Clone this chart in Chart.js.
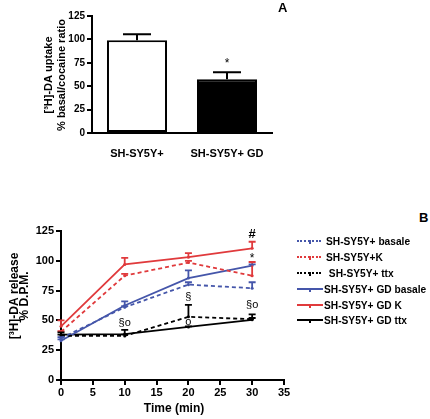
<!DOCTYPE html>
<html>
<head>
<meta charset="utf-8">
<script src="https://cdn.jsdelivr.net/npm/chart.js@4/dist/chart.umd.min.js"></script>
<style>
  html, body { margin: 0; padding: 0; background: #fff; }
  #wrap { position: relative; width: 430px; height: 419px; overflow: hidden; background: #fff; font-family: 'Liberation Sans', Arial, sans-serif; }
  #cA { position: absolute; left: 0; top: 0; }
  #cB { position: absolute; left: 0; top: 195px; }
  .panel { position: absolute; font-weight: bold; font-size: 13px; color: #000; }
  .leg { position: absolute; left: 297px; height: 12px; display: flex; align-items: center; font-weight: bold; font-size: 10.2px; color: #000; white-space: pre; }
  .sample { position: relative; height: 0; }
  .tick { position: absolute; left: 12px; top: -2.5px; width: 1.5px; height: 4px; }
</style>
</head>
<body>
<div id="wrap">
  <canvas id="cA" width="300" height="165"></canvas>
  <canvas id="cB" width="300" height="224"></canvas>
  <div class="panel" style="left:278px; top:0px;">A</div>
  <div class="panel" style="left:419px; top:210px;">B</div>
  <div id="legend"></div>
</div>
<script>
// ---------- Panel A data ----------
const uptakeCategories = ['SH-SY5Y+', 'SH-SY5Y+ GD'];
const uptakeMeans = [99, 57.5];
const uptakeUpper = [105.5, 65];
const uptakeTicks = [0, 25, 50, 75, 100, 125];

// ---------- Panel B data ----------
const times = [0, 10, 20, 30];
const basale = [35, 61, 80, 77];
const basaleUpper = [36, 62, 82, 82];
const kStim = [40.5, 87.5, 98.5, 87.5];
const kStimUpper = [41, 89, 100, 99];
const ttx = [37, 37, 53, 51];
const ttxUpper = [38, 38, 63, 55];
const gdBasale = [33, 62.5, 85.5, 96];
const gdBasaleUpper = [34, 66, 92, 97];
const gdK = [45, 97, 103, 110.5];
const gdKUpper = [50, 102.5, 106.5, 116];
const gdTtx = [38, 38.5, 44.5, 50.5];
const gdTtxUpper = [40, 42, 45, 52];
const seriesNames = ['SH-SY5Y+ basale', 'SH-SY5Y+K', ' SH-SY5Y+ ttx', 'SH-SY5Y+ GD basale', 'SH-SY5Y+ GD K', 'SH-SY5Y+ GD ttx'];
const releaseTicks = [0, 25, 50, 75, 100, 125];
const timeTicks = [0, 5, 10, 15, 20, 25, 30, 35];
const markText = ['§o', '§', 'o', '§o', '*', '#'];
const markTime = [10, 20, 20, 30, 30, 30];
const markValue = [48, 70, 49, 63, 102, 122];

const RED = '#e03a3c', BLUE = '#4556aa', BLACK = '#000';
const FONT = "'Liberation Sans', Arial, sans-serif";
Chart.defaults.font.family = FONT;
Chart.defaults.color = '#000';
Chart.defaults.animation = false;

function axisTitlePlugin(lines) {
  return {
    id: 'axTitles',
    afterDraw(chart) {
      const ctx = chart.ctx;
      ctx.save();
      ctx.fillStyle = '#000';
      ctx.textAlign = 'center';
      ctx.textBaseline = 'middle';
      for (const l of lines) {
        ctx.save();
        ctx.font = 'bold ' + l.size + 'px ' + FONT;
        ctx.translate(l.x, l.y);
        ctx.rotate(-Math.PI / 2);
        ctx.fillText(l.text, 0, 0);
        ctx.restore();
      }
      ctx.restore();
    }
  };
}

const errorBarPlugin = {
  id: 'errBars',
  afterDatasetsDraw(chart, args, opts) {
    const ctx = chart.ctx;
    const ys = chart.scales.y;
    chart.data.datasets.forEach((ds, di) => {
      if (!ds.upper) return;
      const meta = chart.getDatasetMeta(di);
      ctx.save();
      ctx.strokeStyle = ds.errColor || ds.borderColor;
      ctx.lineWidth = opts.lineWidth || 2;
      ctx.setLineDash([]);
      meta.data.forEach((el, i) => {
        const hi = ds.upper[i];
        if (hi == null) return;
        const x = el.x;
        const v = ds.data[i];
        const y0 = ys.getPixelForValue(typeof v === 'object' ? v.y : v);
        const y1 = ys.getPixelForValue(hi);
        ctx.beginPath();
        ctx.moveTo(x, y0); ctx.lineTo(x, y1);
        ctx.moveTo(x - opts.cap / 2, y1); ctx.lineTo(x + opts.cap / 2, y1);
        ctx.stroke();
      });
      ctx.restore();
    });
  }
};

function marksPlugin(texts, xsVals, ysVals) {
  return {
    id: 'marks',
    afterDatasetsDraw(chart) {
      const ctx = chart.ctx;
      ctx.save();
      ctx.fillStyle = '#000';
      ctx.textAlign = 'center';
      ctx.textBaseline = 'middle';
      texts.forEach((t, i) => {
        const x = chart.scales.x.getPixelForValue(xsVals[i]);
        const y = chart.scales.y.getPixelForValue(ysVals[i]);
        ctx.font = (t === '#' ? 'bold 13px ' : (t === '*' ? '12px ' : '11px ')) + FONT;
        ctx.fillText(t, x, y);
      });
      ctx.restore();
    }
  };
}

// ---------- Chart A ----------
new Chart(document.getElementById('cA'), {
  type: 'bar',
  data: {
    labels: uptakeCategories,
    datasets: [{
      data: uptakeMeans,
      upper: uptakeUpper,
      backgroundColor: ['#fff', '#000'],
      borderColor: '#000',
      errColor: '#000',
      borderWidth: 2,
      borderSkipped: false,
      barPercentage: 0.667,
      categoryPercentage: 1.0
    }]
  },
  options: {
    responsive: false,
    layout: { padding: { top: 16, right: 28, left: 0, bottom: 0 } },
    plugins: { legend: { display: false }, tooltip: { enabled: false }, errBars: { cap: 28, lineWidth: 2 } },
    scales: {
      x: {
        grid: { display: false },
        border: { display: true, color: '#000', width: 2 },
        ticks: { font: { size: 11, weight: 'bold' }, padding: 6, color: '#000', maxRotation: 0 },
        afterFit(s) { s.height = 32; }
      },
      y: {
        min: 0, max: 125,
        afterBuildTicks(s) { s.ticks = uptakeTicks.map(v => ({ value: v })); },
        grid: { display: true, drawOnChartArea: false, drawTicks: true, tickLength: 5, color: '#000', lineWidth: 2 },
        border: { display: true, color: '#000', width: 2 },
        ticks: { font: { size: 10, weight: 'bold' }, padding: 2, color: '#000' },
        afterFit(s) { s.width = 92; }
      }
    }
  },
  plugins: [errorBarPlugin, marksPlugin(['*'], [1], [74.5]), axisTitlePlugin([
    { text: '[³H]-DA uptake', x: 49, y: 75, size: 11 },
    { text: '% basal/cocaine ratio', x: 61.5, y: 75, size: 11 }
  ])]
});

// ---------- Chart B ----------
function pts(vals) { return times.map((t, i) => ({ x: t, y: vals[i] })); }
function ds(label, vals, upper, color, dashed) {
  return {
    label, data: pts(vals), upper,
    borderColor: color, backgroundColor: color,
    borderWidth: 1.8,
    borderDash: dashed ? [4, 3] : [],
    pointRadius: 1.5, pointBorderWidth: 0, pointBackgroundColor: color,
    fill: false, tension: 0, clip: false
  };
}
const bDatasets = [
  ds(seriesNames[0], basale, basaleUpper, BLUE, true),
  ds(seriesNames[1], kStim, kStimUpper, RED, true),
  ds(seriesNames[2], ttx, ttxUpper, BLACK, true),
  ds(seriesNames[3], gdBasale, gdBasaleUpper, BLUE, false),
  ds(seriesNames[4], gdK, gdKUpper, RED, false),
  ds(seriesNames[5], gdTtx, gdTtxUpper, BLACK, false)
];
new Chart(document.getElementById('cB'), {
  type: 'line',
  data: { datasets: bDatasets },
  options: {
    responsive: false,
    layout: { padding: { top: 36, right: 16, left: 0, bottom: 0 } },
    plugins: { legend: { display: false }, tooltip: { enabled: false }, errBars: { cap: 7, lineWidth: 1.8 } },
    scales: {
      x: {
        type: 'linear', min: 0, max: 35,
        afterBuildTicks(s) { s.ticks = timeTicks.map(v => ({ value: v })); },
        grid: { display: true, drawOnChartArea: false, drawTicks: true, tickLength: 5, color: '#000', lineWidth: 2 },
        border: { display: true, color: '#000', width: 2 },
        ticks: { font: { size: 11, weight: 'bold' }, padding: 1, color: '#000', maxRotation: 0 },
        afterFit(s) { s.height = 39; }
      },
      y: {
        min: 0, max: 125,
        afterBuildTicks(s) { s.ticks = releaseTicks.map(v => ({ value: v })); },
        grid: { display: true, drawOnChartArea: false, drawTicks: true, tickLength: 5, color: '#000', lineWidth: 2 },
        border: { display: true, color: '#000', width: 2 },
        ticks: { font: { size: 11, weight: 'bold' }, padding: 2, color: '#000' },
        afterFit(s) { s.width = 61; }
      }
    }
  },
  plugins: [errorBarPlugin, marksPlugin(markText, markTime, markValue), axisTitlePlugin([
    { text: '[³H]-DA release', x: 14.5, y: 101, size: 12 },
    { text: '% D.P.M.', x: 25, y: 101, size: 12 }
  ]), {
    id: 'xTitle',
    afterDraw(chart) {
      const ctx = chart.ctx;
      ctx.save();
      ctx.font = 'bold 12px ' + FONT;
      ctx.fillStyle = '#000';
      ctx.textAlign = 'center';
      ctx.textBaseline = 'middle';
      ctx.fillText('Time (min)', 174, 214);
      ctx.restore();
    }
  }]
});

// ---------- Legend (HTML) ----------
const legendRowsY = [241, 257, 273, 289, 305, 320];
const legendHost = document.getElementById('legend');
bDatasets.forEach((d, i) => {
  const dashed = d.borderDash.length > 0;
  const row = document.createElement('div');
  row.className = 'leg';
  row.style.top = (legendRowsY[i] - 6) + 'px';
  const s = document.createElement('div');
  s.className = 'sample';
  s.style.width = dashed ? '24px' : '26px';
  s.style.marginRight = dashed ? '5px' : '1px';
  s.style.borderTop = (dashed ? '2px dotted ' : '2px solid ') + d.borderColor;
  const t = document.createElement('div');
  t.className = 'tick';
  t.style.background = d.borderColor;
  s.appendChild(t);
  row.appendChild(s);
  const txt = document.createElement('span');
  txt.textContent = d.label;
  row.appendChild(txt);
  legendHost.appendChild(row);
});
</script>
</body>
</html>
